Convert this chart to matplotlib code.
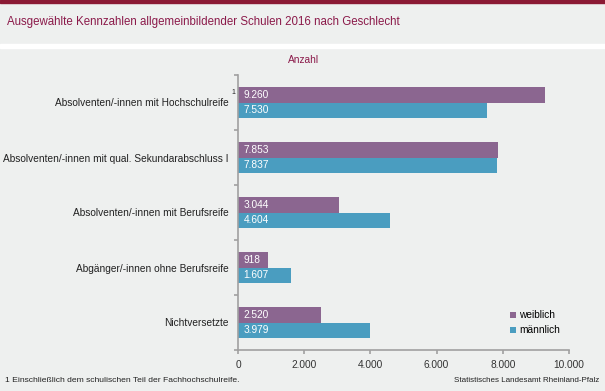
import matplotlib
matplotlib.use('Agg')
from matplotlib import pyplot as plt
from matplotlib.patches import Rectangle
import numpy as np

plt.rcParams['font.family'] = ['Liberation Sans', 'DejaVu Sans']

categories = ['Absolventen/-innen mit Hochschulreife',
              'Absolventen/-innen mit qual. Sekundarabschluss I',
              'Absolventen/-innen mit Berufsreife',
              'Abgänger/-innen ohne Berufsreife',
              'Nichtversetzte']
weiblich = [9260, 7853, 3044, 918, 2520]
maennlich = [7530, 7837, 4604, 1607, 3979]
xticks = [0, 2000, 4000, 6000, 8000, 10000]

bg = '#eef0ef'
c_w = '#8b6690'
c_m = '#4a9dc0'
grey = '#a0a0a0'
red = '#8b1a4a'

def fmt(v):
    return '{:,}'.format(v).replace(',', '.')

fig = plt.figure(figsize=(6.05, 3.91), dpi=100, facecolor=bg)
W, H = 605, 391

# top band and separator
fig.patches.append(Rectangle((0, 1 - 3/H), 1, 3/H, transform=fig.transFigure, color='#8b1a34', zorder=0))
fig.patches.append(Rectangle((0, 1 - 48/H), 1, 4/H, transform=fig.transFigure, color='white', zorder=0))
fig.text(7/W, 1 - 22/H, 'Ausgewählte Kennzahlen allgemeinbildender Schulen 2016 nach Geschlecht',
         color=red, fontsize=8.3, va='center', ha='left')

ax = fig.add_axes([238/W, 1 - 350/H, (569-238)/W, (350-75)/H])
ax.set_facecolor('none')
y = np.arange(len(categories))
h = 0.29
ax.barh(y - h/2, weiblich, height=h, color=c_w, label='weiblich')
ax.barh(y + h/2, maennlich, height=h, color=c_m, label='männlich')
for i in range(len(categories)):
    ax.annotate(fmt(weiblich[i]), (0, y[i] - h/2), xytext=(4, 0), textcoords='offset points',
                va='center', ha='left', color='white', fontsize=7.3)
    ax.annotate(fmt(maennlich[i]), (0, y[i] + h/2), xytext=(4, 0), textcoords='offset points',
                va='center', ha='left', color='white', fontsize=7.3)

ax.set_xlim(0, 10000)
ax.set_ylim(len(categories) - 0.5, -0.5)
ax.set_xticks(xticks)
ax.set_xticklabels([fmt(v) for v in xticks], fontsize=7.3, color='#333333')
ax.set_yticks(np.arange(len(categories) + 1) - 0.5)
ax.set_yticklabels([])
ax.set_yticks(y, minor=True)
ax.set_yticklabels(categories, minor=True, fontsize=7.3, color='#222222')
ax.tick_params(axis='y', which='minor', length=0, pad=7)
ax.tick_params(axis='y', which='major', length=3, color=grey, width=1.2)
ax.tick_params(axis='x', length=3, color=grey, width=1.2, pad=4)
for s in ['top', 'right']:
    ax.spines[s].set_visible(False)
for s in ['left', 'bottom']:
    ax.spines[s].set_color(grey)
    ax.spines[s].set_linewidth(1.2)

# footnote marker on first category
fig.text(233/W, 1 - 93/H, '1', fontsize=5, ha='center', va='center', color='#222222')

fig.text(304/W, 1 - 60/H, 'Anzahl', color=red, fontsize=7.3, ha='center', va='center')

leg = ax.legend(loc='lower right', bbox_to_anchor=(1.0, 0.02), frameon=False, fontsize=7.3,
                handlelength=0.6, handleheight=0.6, handletextpad=0.3, labelspacing=0.5)

fig.text(5/W, 1 - 381/H, '1 Einschließlich dem schulischen Teil der Fachhochschulreife.',
         fontsize=6.1, color='#222222', ha='left', va='center')
fig.text(599/W, 1 - 381/H, 'Statistisches Landesamt Rheinland-Pfalz',
         fontsize=5.8, color='#222222', ha='right', va='center')

fig.savefig('out.png', dpi=100, facecolor=bg)
